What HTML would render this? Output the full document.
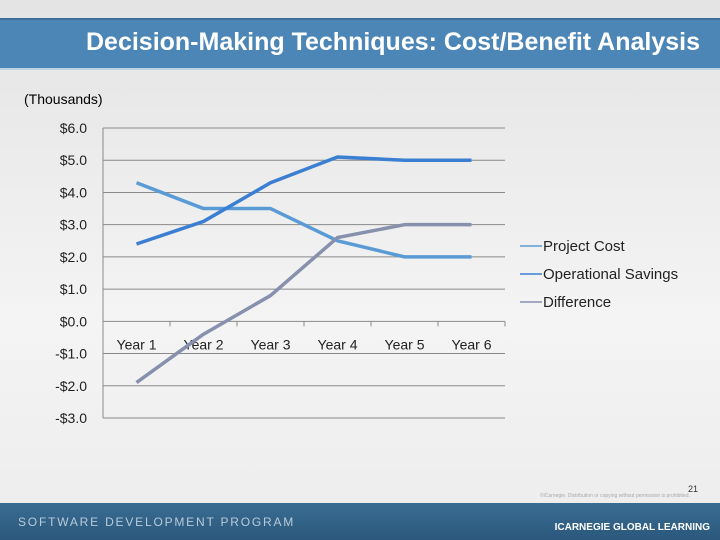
<!DOCTYPE html>
<html><head><meta charset="utf-8"><style>
body{margin:0;width:720px;height:540px;overflow:hidden;font-family:"Liberation Sans",sans-serif;}
#slide{position:relative;width:720px;height:540px;background:linear-gradient(#e4e4e4,#f4f4f4 60%,#ececec);}
#hdr{position:absolute;left:0;top:18px;width:720px;height:48px;background:#4b86b6;border-top:2px solid #3d6f99;border-bottom:2px solid #bcd3e6;}
#hdr h1{margin:0;position:absolute;right:20px;top:8px;font-size:25px;font-weight:bold;color:#fff;letter-spacing:0px;}
#ftr{position:absolute;left:0;top:503px;width:720px;height:37px;background:linear-gradient(#3a6c92,#2b587c);}
</style></head><body>
<div id="slide">
<div id="hdr"><h1>Decision-Making Techniques: Cost/Benefit Analysis</h1></div>
<svg id="chart" width="720" height="540" style="position:absolute;left:0;top:0"></svg>
<div id="ftr">
<div style="position:absolute;left:18px;top:12px;color:#b8cadb;font-size:12px;letter-spacing:1.8px">SOFTWARE DEVELOPMENT PROGRAM</div>
<div style="position:absolute;right:10px;top:19px;color:#fff;font-size:10px;font-weight:bold">ICARNEGIE GLOBAL LEARNING</div>
</div>
<div style="position:absolute;left:688px;top:484px;font-size:9px;color:#333">21</div>
<div style="position:absolute;left:540px;top:493px;font-size:5px;color:#aaa">©iCarnegie. Distribution or copying without permission is prohibited.</div>
</div>
<script>
const categories=["Year 1","Year 2","Year 3","Year 4","Year 5","Year 6"];
const projectCost=[4.3,3.5,3.5,2.5,2.0,2.0];
const operationalSavings=[2.4,3.1,4.3,5.1,5.0,5.0];
const difference=[-1.9,-0.4,0.8,2.6,3.0,3.0];
const yTicks=[6,5,4,3,2,1,0,-1,-2,-3];
const yTickLabels=["$6.0","$5.0","$4.0","$3.0","$2.0","$1.0","$0.0","-$1.0","-$2.0","-$3.0"];
const seriesNames=["Project Cost","Operational Savings","Difference"];
const NS="http://www.w3.org/2000/svg";
const svg=document.getElementById('chart');
const L=103,R=505,T=128,B=418,ymax=6,ymin=-3;
const y=v=>T+(ymax-v)/(ymax-ymin)*(B-T);
const step=(R-L)/categories.length;
const x=i=>L+step*(i+0.5);
function mk(t,a){const e=document.createElementNS(NS,t);for(const k in a)e.setAttribute(k,a[k]);svg.appendChild(e);return e;}
let t=mk('text',{x:24,y:104,'font-size':14,fill:'#000'});t.textContent="(Thousands)";

yTicks.forEach((v,i)=>{
 const g=mk('line',{x1:L,x2:R,y1:y(v),y2:y(v),stroke:'#8a8a8a','stroke-width':1});
 
 const tl=mk('text',{x:87,y:y(v)+5,'font-size':14,'text-anchor':'end',fill:'#222'});tl.textContent=yTickLabels[i];
 
});
const ax=mk('line',{x1:L,x2:L,y1:T,y2:B,stroke:'#8a8a8a'});

for(let i=0;i<=categories.length;i++){const tk=mk('line',{x1:L+step*i,x2:L+step*i,y1:y(0),y2:y(0)+5,stroke:'#8a8a8a'});
 }
categories.forEach((c,i)=>{const tl=mk('text',{x:x(i),y:y(0)+28,'font-size':14,'text-anchor':'middle',fill:'#222'});tl.textContent=c;
 });
const colors=['#5b9bd5','#3a7fd2','#8790ad'];
[projectCost,operationalSavings,difference].forEach((s,k)=>{
 const p=mk('polyline',{points:s.map((v,i)=>x(i)+','+y(v)).join(' '),fill:'none',stroke:colors[k],'stroke-width':3.5,'stroke-linejoin':'round'});
 
 const ly=246+k*28;
 const ll=mk('line',{x1:520,x2:542,y1:ly,y2:ly,stroke:colors[k],'stroke-width':1.5});
 
 const lt=mk('text',{x:543,y:ly+5,'font-size':15,fill:'#222'});lt.textContent=seriesNames[k];
 
});
</script>
</body></html>
